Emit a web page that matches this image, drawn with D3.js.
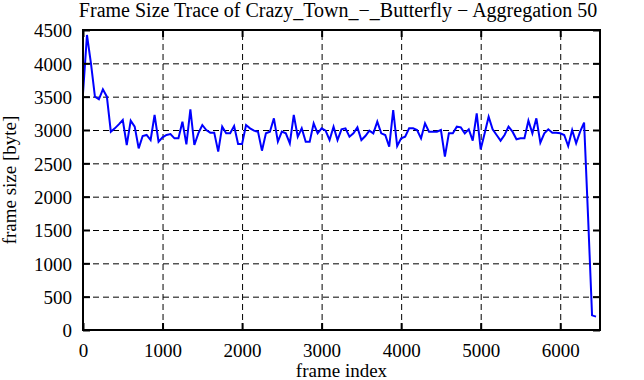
<!DOCTYPE html>
<html>
<head>
<meta charset="utf-8">
<script src="https://cdn.jsdelivr.net/npm/d3@7"></script>
<style>
  html, body { margin: 0; padding: 0; background: #fff; }
  svg { display: block; }
  svg text { font-family: "Liberation Serif", "Times New Roman", serif; fill: #000; }
</style>
</head>
<body>
<svg id="chart" width="644" height="380"></svg>
<script>
// ---- data ----
const titleText = "Frame Size Trace of Crazy_Town_\u2212_Butterfly \u2212 Aggregation 50";
const xLabel = "frame index";
const yLabel = "frame size [byte]";
const aggregation = 50; // frames per aggregated point
const frameSizes = [
  3550, 4425, 4000, 3500, 3460, 3610, 3500, 2975, 3025, 3085,
  3150, 2775, 3140, 3050, 2725, 2910, 2925, 2850, 3225, 2825,
  2890, 2925, 2940, 2875, 2875, 3125, 2785, 3310, 2775, 2950,
  3075, 3000, 2960, 2960, 2675, 3050, 2950, 2950, 3060, 2790,
  2790, 3075, 3025, 2990, 2975, 2690, 2950, 2975, 3175, 2825,
  2975, 2950, 2800, 3225, 2900, 3025, 2825, 2825, 3100, 2950,
  3025, 2990, 2850, 3050, 2850, 3010, 3025, 2900, 2950, 3040,
  2850, 2910, 2990, 2950, 3125, 2950, 2925, 2750, 3300, 2760,
  2875, 2900, 3025, 3025, 3000, 2875, 3100, 2975, 2975, 2975,
  3000, 2600, 2950, 2950, 3050, 3040, 2950, 3010, 2840, 3250,
  2710, 2950, 3200, 3010, 2925, 2840, 2925, 3050, 2975, 2860,
  2875, 2875, 3140, 2950, 3175, 2810, 2950, 3010, 2960, 2960,
  2950, 2925, 2760, 3000, 2800, 2975, 3110, 1700, 220, 200
];
const xTicks = [0, 1000, 2000, 3000, 4000, 5000, 6000];
const yTicks = [0, 500, 1000, 1500, 2000, 2500, 3000, 3500, 4000, 4500];
const xDomain = [0, 6500];
const yDomain = [0, 4500];

// ---- layout ----
const pL = 83, pR = 600, pT = 30, pB = 330;
const tickLen = 7;
const serif = '"Liberation Serif", "Times New Roman", serif';

const svg = d3.select("#chart");
const x = d3.scaleLinear().domain(xDomain).range([pL, pR]);
const y = d3.scaleLinear().domain(yDomain).range([pB, pT]);
const fmt = d3.format("d");

// grid (dashed)
const gx = svg.append("g").attr("transform", `translate(0,${pB})`)
  .call(d3.axisBottom(x).tickValues(xTicks.filter(v => v > xDomain[0] && v < xDomain[1]))
        .tickSize(-(pB - pT)).tickFormat(""));
gx.select(".domain").remove();
gx.selectAll("line").attr("stroke", "#000").attr("stroke-width", 1).attr("stroke-dasharray", "6,4");

const gy = svg.append("g").attr("transform", `translate(${pL},0)`)
  .call(d3.axisLeft(y).tickValues(yTicks.filter(v => v > yDomain[0] && v < yDomain[1]))
        .tickSize(-(pR - pL)).tickFormat(""));
gy.select(".domain").remove();
gy.selectAll("line").attr("stroke", "#000").attr("stroke-width", 1).attr("stroke-dasharray", "6,4");

// data line
const line = d3.line()
  .x((d, i) => x(i * aggregation))
  .y(d => y(d));
svg.append("path")
  .datum(frameSizes)
  .attr("d", line)
  .attr("fill", "none")
  .attr("stroke", "#0000ff")
  .attr("stroke-width", 2)
  .attr("stroke-linejoin", "miter");

// axes with inward ticks + labels
const axL = svg.append("g").attr("transform", `translate(${pL},0)`)
  .call(d3.axisLeft(y).tickValues(yTicks).tickSize(-tickLen).tickPadding(11).tickFormat(fmt));
const axR = svg.append("g").attr("transform", `translate(${pR},0)`)
  .call(d3.axisRight(y).tickValues(yTicks).tickSize(-tickLen).tickFormat(""));
const axB = svg.append("g").attr("transform", `translate(0,${pB})`)
  .call(d3.axisBottom(x).tickValues(xTicks).tickSize(-tickLen).tickFormat(fmt));
const axT = svg.append("g").attr("transform", `translate(0,${pT})`)
  .call(d3.axisTop(x).tickValues(xTicks).tickSize(-tickLen).tickFormat(""));

[axL, axR, axB, axT].forEach(g => {
  g.attr("font-family", null).attr("font-size", null);
  g.select(".domain").remove();
  g.selectAll("line").attr("stroke", "#000").attr("stroke-width", 2);
  g.selectAll("text").style("font-family", serif)
    .style("font-size", "19px").attr("fill", "#000");
});
axL.selectAll("text").attr("dy", "0.36em");
axB.selectAll("text").attr("y", 27).attr("dy", 0);

// border
svg.append("rect")
  .attr("x", pL).attr("y", pT)
  .attr("width", pR - pL).attr("height", pB - pT)
  .attr("fill", "none").attr("stroke", "#000").attr("stroke-width", 2);

// titles
svg.append("text")
  .attr("x", 338).attr("y", 17)
  .attr("text-anchor", "middle")
  .style("font-family", serif).style("font-size", "20px")
  .text(titleText);
svg.append("text")
  .attr("x", (pL + pR) / 2).attr("y", 377)
  .attr("text-anchor", "middle")
  .style("font-family", serif).style("font-size", "19px")
  .text(xLabel);
svg.append("text")
  .attr("transform", `translate(16,${(pT + pB) / 2}) rotate(-90)`)
  .attr("text-anchor", "middle")
  .style("font-family", serif).style("font-size", "19px")
  .text(yLabel);
</script>
</body>
</html>
